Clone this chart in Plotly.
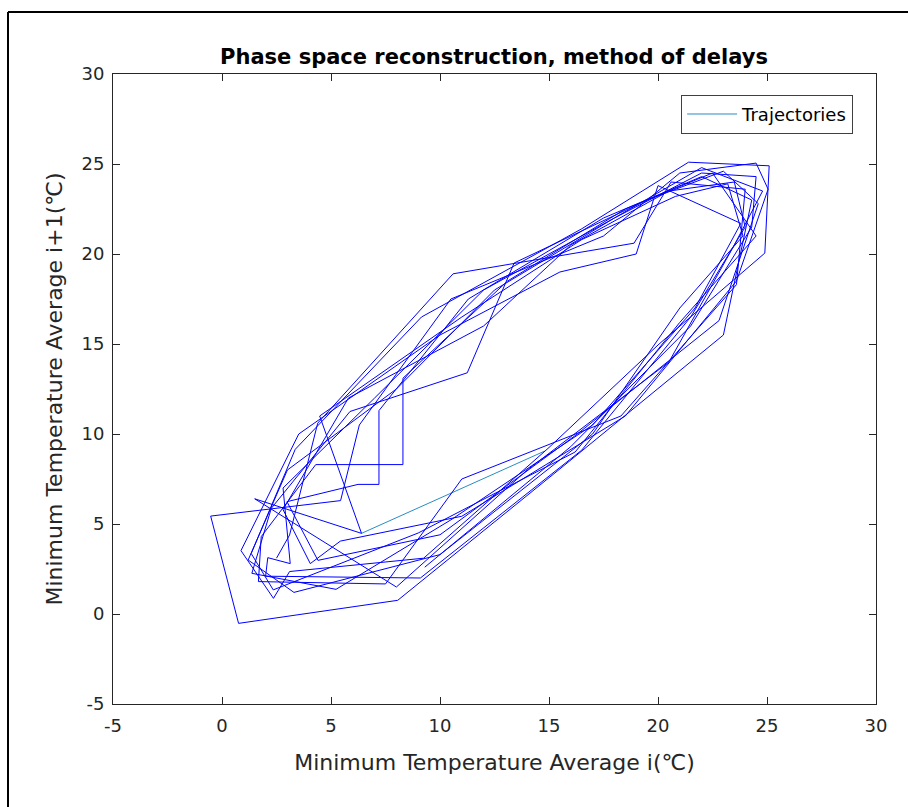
import plotly.graph_objects as go

# Monthly minimum temperature averages (deg C)
year1 = [2.5, 3.1, 4.39, 10.6, 18.9, 20.6, 24.0, 23.6, 18.3, 11.0, 7.5, 1.67]
year2 = [1.8, 4.3, 8.3, 8.3, 13.1, 18.5, 22.5, 24.5, 21.0, 16.2, 9.0, 4.5]
year3 = [2.35, 1.34, 3.36, 9.15, 16.5, 21.4, 25.1, 24.9, 20.05, 15.0, 9.25, 3.1]
year4 = [2.36, 0.87, 3.52, 10.0, 15.5, 19.0, 20.0, 23.8, 21.7, 17.0, 10.5, 5.23]
year5 = [1.37, 2.26, 5.87, 11.25, 13.4, 19.5, 23.0, 24.6, 22.8, 16.3, 10.0, 4.4]
year6 = [2.98, 6.24, 7.2, 7.2, 11.3, 17.5, 22.0, 24.3, 23.0, 15.5, 8.06, 0.76]
year7 = [-0.52, 5.44, 6.3, 10.5, 17.5, 21.0, 24.5, 25.05, 23.6, 18.5, 11.0, 5.43]
year8 = [4.05, 2.8, 5.8, 12.0, 16.0, 20.5, 23.5, 24.0, 21.5, 16.5, 9.1, 2.0]
year9 = [2.1, 3.13, 2.8, 7.0, 12.0, 18.0, 22.0, 24.8, 23.5, 20.5, 14.0, 8.0]
year10 = [1.5, 6.4, 4.48, 11.0, 16.5, 20.8, 23.2, 23.9, 21.0, 17.0, 10.0, 3.3]
year11 = [1.2, 3.0, 8.0, 12.5, 18.0, 22.0, 24.5, 24.3, 21.5, 16.0, 9.3, 2.6]

series = (year1 + year2 + year3 + year4 + year5 + year6 + year7 + year8
          + year9 + year10 + year11)
x_i = series[:-1]
x_i1 = series[1:]

# Highlighted trajectory segment drawn in the default colour (legend entry)
first_x = [6.4, 14.8]
first_y = [4.48, 9.05]

tick_vals = [-5, 0, 5, 10, 15, 20, 25, 30]
tick_labels = ["-5", "0", "5", "10", "15", "20", "25", "30"]

FONT = "DejaVu Sans, Liberation Sans, Arial, sans-serif"
TXT = "#262626"

fig = go.Figure()
fig.add_trace(go.Scatter(x=first_x, y=first_y, mode="lines", name="Trajectories",
                         line=dict(color="rgb(40,140,195)", width=1), showlegend=True))
fig.add_trace(go.Scatter(x=x_i, y=x_i1, mode="lines", name="trajectory",
                         line=dict(color="#0000FF", width=1), showlegend=False))

axis_common = dict(range=[-5, 30], tickmode="array", tickvals=tick_vals, ticktext=tick_labels,
                   ticks="inside", ticklen=7,
                   tickcolor=TXT, showline=True, linecolor=TXT, linewidth=1,
                   mirror="ticks", showgrid=False, zeroline=False,
                   tickfont=dict(family=FONT, size=18, color=TXT))

fig.update_layout(
    width=908, height=807,
    margin=dict(l=113, r=32, t=74, b=103),
    paper_bgcolor="white", plot_bgcolor="white",
    title=dict(text="<b>Phase space reconstruction, method of delays</b>",
               x=(113 + 381) / 908, xanchor="center", y=1 - 57 / 807, yanchor="middle",
               font=dict(family=FONT, size=21, color="black")),
    xaxis=dict(**axis_common, ticklabelstandoff=5,
               title=dict(text="Minimum Temperature Average i(℃)", standoff=20,
                          font=dict(family=FONT, size=22, color=TXT))),
    yaxis=dict(**axis_common, ticklabelstandoff=4,
               title=dict(text="Minimum Temperature Average i+1(℃)", standoff=12,
                          font=dict(family=FONT, size=22, color=TXT))),
    legend=dict(x=0.970, y=0.967, xanchor="right", yanchor="top",
                bgcolor="white", bordercolor="#404040", borderwidth=1,
                itemwidth=50,
                font=dict(family=FONT, size=18, color="black")),
    showlegend=True,
)

# Outer figure frame (left and top edges visible in the reference)
fig.add_shape(type="line", xref="paper", yref="paper",
              x0=(8 - 113) / 763, x1=(8 - 113) / 763, y0=(704 - 12) / 630, y1=(704 - 810) / 630,
              line=dict(color="black", width=2))
fig.add_shape(type="line", xref="paper", yref="paper",
              x0=(8 - 113) / 763, x1=(910 - 113) / 763, y0=(704 - 12) / 630, y1=(704 - 12) / 630,
              line=dict(color="black", width=2))

fig.write_html("out.html")
